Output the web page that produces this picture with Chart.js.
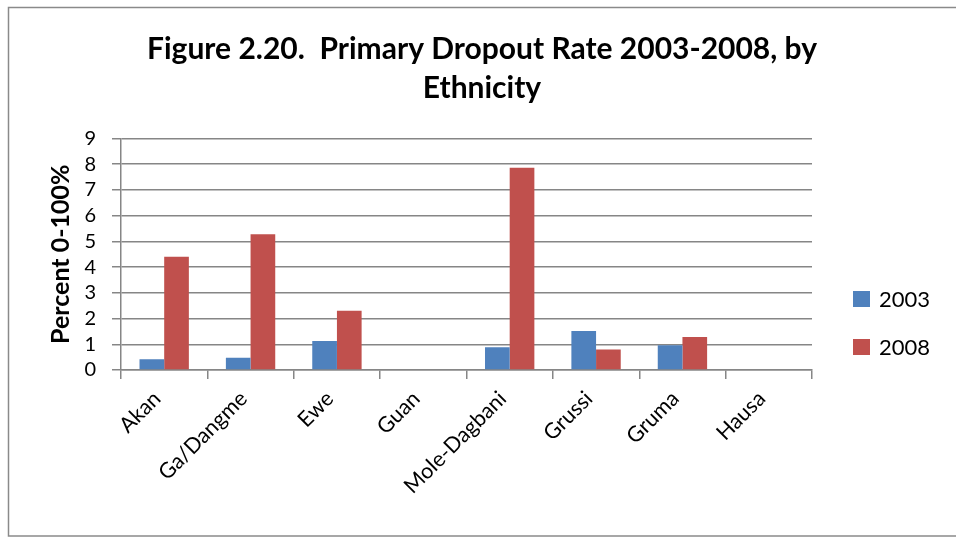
<!DOCTYPE html>
<html>
<head>
<meta charset="utf-8">
<script src="https://cdn.jsdelivr.net/npm/chart.js@4.4.1/dist/chart.umd.min.js"></script>
<style>
  html, body { margin: 0; padding: 0; background: #fff; }
  #wrap { width: 956px; height: 538px; position: relative; }
</style>
</head>
<body>
<div id="wrap"><canvas id="c" width="956" height="538"></canvas></div>
<script>
// Dropout rate (percent) per ethnic group, 2003 and 2008
const categories = ['Akan', 'Ga/Dangme', 'Ewe', 'Guan', 'Mole-Dagbani', 'Grussi', 'Gruma', 'Hausa'];
const rate2003 = [0.42, 0.48, 1.13, 0, 0.88, 1.52, 0.96, 0];
const rate2008 = [4.40, 5.28, 2.30, 0, 7.86, 0.80, 1.28, 0];
const seriesLabels = ['2003', '2008'];
const seriesColors = ['#4F81BD', '#C0504D'];
const yMin = 0;
const yMax = 9;
const yStep = 1;
const titleLines = ['Figure 2.20.  Primary Dropout Rate 2003-2008, by', 'Ethnicity'];
const yTitle = 'Percent 0-100%';

const FONT = 'Lato, "Open Sans", sans-serif';
const GRID = '#868686';

// white page with a thin grey frame
const framePlugin = {
  id: 'frame',
  beforeDraw(chart) {
    const ctx = chart.ctx;
    ctx.save();
    ctx.fillStyle = '#fff';
    ctx.fillRect(0, 0, chart.width, chart.height);
    ctx.strokeStyle = '#8a8a8a';
    ctx.lineWidth = 1.5;
    ctx.strokeRect(8.5, 7.5, chart.width + 10, chart.height - 8.5 - 1);
    ctx.restore();
  }
};

// legend at the right: coloured squares with series names
const sideLegend = {
  id: 'sideLegend',
  afterDraw(chart) {
    const ctx = chart.ctx;
    const ca = chart.chartArea;
    const x0 = ca.right + 41;
    const centers = [ca.bottom - 71, ca.bottom - 23];
    ctx.save();
    chart.data.datasets.forEach((ds, i) => {
      const yc = centers[i];
      ctx.fillStyle = ds.backgroundColor;
      ctx.fillRect(x0, yc - 8, 17, 16);
      ctx.fillStyle = '#000';
      ctx.font = '22px ' + FONT;
      ctx.textBaseline = 'middle';
      ctx.textAlign = 'left';
      ctx.fillText(ds.label, x0 + 26, yc + 1);
    });
    ctx.restore();
  }
};

new Chart(document.getElementById('c'), {
  type: 'bar',
  data: {
    labels: categories,
    datasets: [
      { label: seriesLabels[0], data: rate2003, backgroundColor: seriesColors[0], yAxisID: 'y' },
      { label: seriesLabels[1], data: rate2008, backgroundColor: seriesColors[1], yAxisID: 'y' }
    ]
  },
  options: {
    responsive: false,
    animation: false,
    devicePixelRatio: 1,
    layout: { padding: { left: 8, right: 0, top: 8, bottom: 0 } },
    datasets: { bar: { categoryPercentage: 2 / 3.5, barPercentage: 1 } },
    plugins: {
      legend: { display: false },
      tooltip: { enabled: false },
      title: {
        display: true,
        text: titleLines,
        color: '#000',
        font: { family: FONT, size: 30, weight: 'bold', lineHeight: 1.3 },
        padding: { top: 22, bottom: 30.5 }
      }
    },
    scales: {
      x: {
        offset: true,
        grid: { display: true, drawOnChartArea: false, drawTicks: true, tickLength: 9, offset: true, color: GRID, lineWidth: 1.5 },
        border: { display: true, color: GRID, width: 1.5 },
        ticks: { color: '#000', font: { family: FONT, size: 21.5 }, minRotation: 45, maxRotation: 45, autoSkip: false, padding: 7, labelOffset: -7 },
        afterFit: s => { s.height = 168; }
      },
      y: {
        min: yMin,
        max: yMax,
        grid: { color: GRID, lineWidth: 1.5, tickLength: 9 },
        border: { display: true, color: GRID, width: 1.5 },
        ticks: { stepSize: yStep, autoSkip: false, color: '#000', font: { family: FONT, size: 20 }, padding: 16 },
        title: { display: true, text: yTitle, color: '#000', font: { family: FONT, size: 25, weight: 'bold' }, padding: { top: 38, bottom: 0 } },
        afterFit: s => { s.width = 113; }
      },
      legendSpace: {
        type: 'linear',
        position: 'right',
        display: true,
        grid: { display: false },
        border: { display: false },
        ticks: { display: false },
        afterFit: s => { s.width = 144; }
      }
    }
  },
  plugins: [framePlugin, sideLegend]
});
</script>
</body>
</html>
